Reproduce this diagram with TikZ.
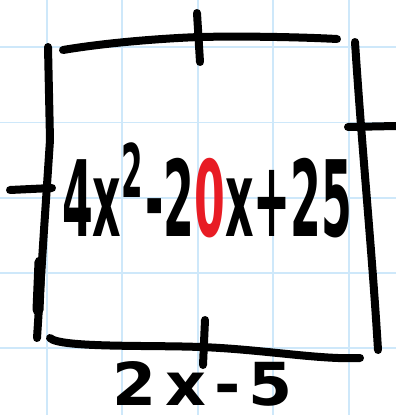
\documentclass[tikz,border=0pt]{standalone}
\usepackage{fontspec}
\usepackage{graphicx}
\setmainfont{DejaVu Sans}
\definecolor{gridblue}{RGB}{206,232,250}
\definecolor{handred}{RGB}{232,28,36}
\tikzset{
  gridline/.style={draw=gridblue, line width=1.6pt},
  pen/.style={draw=black, line width=8pt, line cap=round, line join=round},
  handtext/.style={inner sep=0pt, text=black}
}
\begin{document}
\begin{tikzpicture}[x=1pt,y=-1pt]
\useasboundingbox[fill=white] (0,0) rectangle (396,415);
% grid
\foreach \gx in {46.7,122,198,273,349} \draw[gridline] (\gx,0) -- (\gx,415);
\foreach \gy in {47,122.5,198,273,348} \draw[gridline] (0,\gy) -- (396,\gy);
% square
\draw[pen] (63,50) .. controls (110,42) and (170,38) .. (200,37) .. controls (240,36) and (300,37) .. (337,39);
\draw[pen] (197,13) -- (200,62);
\draw[pen] (48,47) -- (50,140) -- (44,230) -- (37,338);
\draw[pen, line width=11pt] (40,262) -- (38,310);
\draw[pen] (10,190) -- (52,188);
\draw[pen] (355,42) .. controls (362,150) and (372,250) .. (378,350);
\draw[pen] (348,127) -- (396,126);
\draw[pen] (50,338) .. controls (60,348) and (150,345) .. (200,347) .. controls (260,349) and (320,360) .. (360,358);
\draw[pen] (205,320) -- (203,365);
% texts
\node[handtext, anchor=base west] (expr) at (62,236)
  {\resizebox{290pt}{93pt}{\bfseries 4x\textsuperscript{2}-2\textcolor{handred}{0}x+25}};
\node[handtext, anchor=base west] (side) at (112,405)
  {\resizebox{180pt}{44pt}{\bfseries 2\hspace{0.15em}x\hspace{0.12em}-\hspace{0.12em}5}};
\end{tikzpicture}
\end{document}
